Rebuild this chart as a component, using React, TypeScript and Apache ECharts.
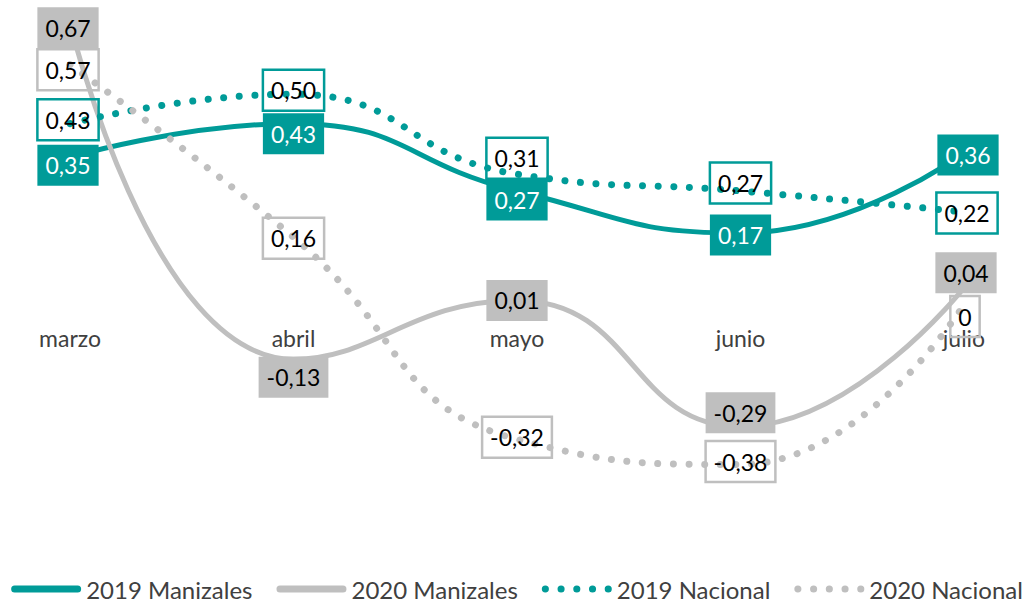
import React, { useEffect, useRef } from "react";
import * as echarts from "echarts";

const categories = ["marzo", "abril", "mayo", "junio", "julio"];
const manizales2019 = [0.35, 0.43, 0.27, 0.17, 0.36];
const manizales2020 = [0.67, -0.13, 0.01, -0.29, 0.04];
const nacional2019 = [0.43, 0.5, 0.31, 0.27, 0.22];
const nacional2020 = [0.57, 0.16, -0.32, -0.38, 0];
const seriesNames = ["2019 Manizales", "2020 Manizales", "2019 Nacional", "2020 Nacional"];

// label nudges (style only)
const offM2019 = [[-2, 8], [0, 10], [0, 9], [0, 2], [4, 2]];
const offM2020 = [[-2, 5], [0, 18], [0, 0], [0, -14], [2, -15]];
const offN2019 = [[-2, -4], [0, -4], [0, -16], [0, -8], [3, 1]];
const offN2020 = [[-2, 5], [0, 1], [0, -2], [0, -3], [1, 12]];

const TEAL = "#009b98";
const GRAY = "#bfbfbf";
const FONT = "Lato";

const fmt = (v: number) => (v === 0 ? "0" : v.toFixed(2).replace(".", ","));

const solidIcon = "path://M3.5,0H66.5A3.5,3.5 0 0 1 66.5,7H3.5A3.5,3.5 0 0 1 3.5,0Z";
const dotCenters = [3.5, 19, 34.5, 50, 65.5];
const dotIcon =
  "path://" +
  dotCenters.map((c) => `M${c - 3.5},3.5a3.5,3.5 0 1,0 7,0a3.5,3.5 0 1,0 -7,0Z`).join(" ");

function lineSeries(name: string, data: number[], color: string, dotted: boolean) {
  return {
    name,
    type: "line",
    data,
    smooth: 0.5,
    symbol: "none",
    z: 3,
    itemStyle: { color },
    lineStyle: dotted
      ? { color, width: 7, type: [0.01, 15.6], cap: "round" }
      : { color, width: 5, cap: "round" },
    emphasis: { disabled: true },
  };
}

function labelSeries(
  name: string,
  data: number[],
  offsets: number[][],
  bg: string,
  border: string,
  textColor: string
) {
  return {
    name: name + " etiquetas",
    type: "scatter",
    z: 6,
    symbol: "circle",
    symbolSize: 0.01,
    itemStyle: { color: "transparent", opacity: 1 },
    silent: true,
    data: data.map((v, i) => ({
      value: v,
      label: { offset: offsets[i] },
    })),
    label: {
      show: true,
      position: "inside",
      formatter: (p: any) => fmt(p.value),
      fontFamily: FONT,
      fontSize: 23,
      color: textColor,
      opacity: 1,
      backgroundColor: bg,
      borderColor: border,
      borderWidth: border === "none" ? 0 : 1.25,
      padding: [7, 8, 6, 8],
      lineHeight: 28,
    },
    emphasis: { disabled: true },
  };
}

export default function App() {
  const ref = useRef<HTMLDivElement>(null);
  useEffect(() => {
    if (!ref.current) return;
    const chart = echarts.init(ref.current, undefined, { renderer: "svg" });
    chart.setOption({
      animation: false,
      backgroundColor: "#ffffff",
      grid: { left: 70, right: 70, top: 10, bottom: 90 },
      xAxis: {
        type: "category",
        data: categories,
        boundaryGap: false,
        axisLine: { show: false, onZero: false },
        axisTick: { show: false },
        axisLabel: {
          margin: -189,
          fontFamily: FONT,
          fontSize: 23,
          color: "#404040",
        },
      },
      yAxis: {
        type: "value",
        min: -0.5,
        max: 0.7,
        show: false,
        splitLine: { show: false },
      },
      legend: {
        left: "center",
        top: 572,
        itemWidth: 70,
        itemHeight: 7,
        itemGap: 24,
        symbolKeepAspect: false,
        textStyle: { fontFamily: FONT, fontSize: 24, color: "#404040" },
        data: [
          { name: seriesNames[0], icon: solidIcon },
          { name: seriesNames[1], icon: solidIcon },
          { name: seriesNames[2], icon: dotIcon },
          { name: seriesNames[3], icon: dotIcon },
        ],
      },
      series: [
        lineSeries(seriesNames[0], manizales2019, TEAL, false),
        lineSeries(seriesNames[1], manizales2020, GRAY, false),
        lineSeries(seriesNames[2], nacional2019, TEAL, true),
        lineSeries(seriesNames[3], nacional2020, GRAY, true),
        labelSeries(seriesNames[2], nacional2019, offN2019, "transparent", TEAL, "#000000"),
        labelSeries(seriesNames[3], nacional2020, offN2020, "transparent", GRAY, "#000000"),
        labelSeries(seriesNames[0], manizales2019, offM2019, TEAL, "none", "#ffffff"),
        labelSeries(seriesNames[1], manizales2020, offM2020, GRAY, "none", "#000000"),
      ],
    });
    return () => chart.dispose();
  }, []);
  return (
    <div
      ref={ref}
      style={{ position: "fixed", left: 0, top: 0, width: 1034, height: 605 }}
    />
  );
}
